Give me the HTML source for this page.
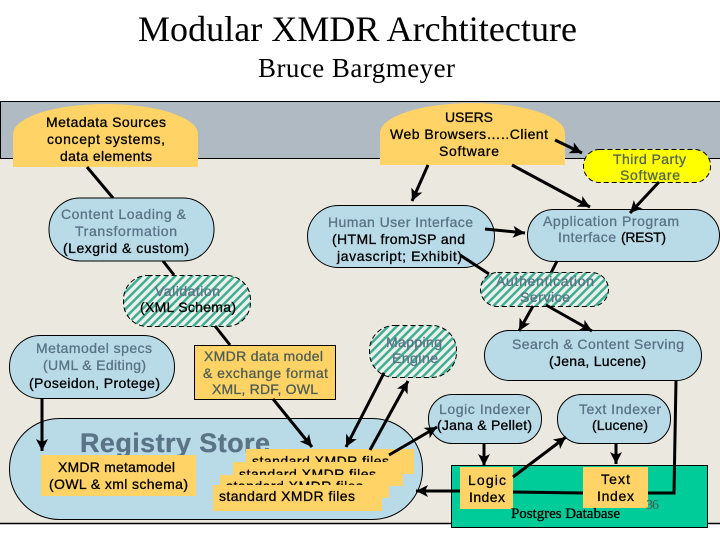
<!DOCTYPE html>
<html>
<head>
<meta charset="utf-8">
<title>Modular XMDR Archtitecture</title>
<style>
html,body{margin:0;padding:0;background:#fff}
svg{display:block}
text{font-family:"Liberation Sans",sans-serif;font-size:14px;fill:#000;stroke:#000;stroke-width:.3}
.g{fill:#5a7386;stroke:#5a7386}
.s{font-family:"Liberation Serif",serif}
.blue{fill:#b9dae7;stroke:#000;stroke-width:1}
.or{fill:#ffd366}
.h{fill:url(#hatch);stroke:#000;stroke-width:1;stroke-dasharray:5 3}
.l{stroke:#000;stroke-width:3;fill:none}
.a{stroke:#000;stroke-width:3;fill:none;marker-end:url(#arr)}
</style>
</head>
<body>
<svg width="720" height="540" viewBox="0 0 720 540" xmlns="http://www.w3.org/2000/svg">
<defs>
<pattern id="hatch" width="6" height="6" patternUnits="userSpaceOnUse" patternTransform="rotate(45)">
<rect width="6" height="6" fill="#edf1ea"/>
<rect width="2.500" height="6" fill="#3fae95"/>
</pattern>
<marker id="arr" markerUnits="userSpaceOnUse" markerWidth="14" markerHeight="14" refX="13" refY="7" orient="auto">
<path d="M1 1 L13 7 L1 13 L4 7 Z" fill="#000"/>
</marker>
</defs>

<rect width="720" height="540" fill="#fff"/>
<text class="s" x="138" y="41" textLength="439" style="font-size:36px;stroke:none">Modular XMDR Archtitecture</text>
<text class="s" x="258" y="77" textLength="197" style="font-size:27px;stroke:none">Bruce Bargmeyer</text>

<rect x="0" y="158" width="720" height="365" fill="#ebe8e0"/>
<rect x="0" y="101" width="720" height="57" fill="#b0bac3"/>
<path d="M0.5 158 V101.5 H720 M0 158.5 H720" fill="none" stroke="#000"/>
<path d="M0 523.5 H720" stroke="#000" stroke-width="1.5"/>

<path class="or" d="M13 167 V134 A92.500 30 0 0 1 198 134 V167 Z"/>
<path class="or" d="M380 165 V133 A92.500 30 0 0 1 565 133 V165 Z"/>

<path class="l" d="M87 167 L113 198"/>
<path class="l" d="M163 261 L174 275"/>
<path class="a" d="M555 140 L582 153"/>
<path class="a" d="M428 165 L412 201"/>
<path class="a" d="M512 165 L590 207"/>

<rect class="blue" x="49" y="198" width="165" height="63" rx="31" ry="31"/>
<rect class="blue" x="307.500" y="205.500" width="187" height="62" rx="31" ry="31"/>
<rect class="blue" x="527.500" y="209.500" width="192" height="52" rx="26" ry="26"/>
<rect x="583.500" y="149.500" width="127" height="33" rx="16" ry="16" fill="#ffff00" stroke="#000" stroke-dasharray="5 3"/>
<path class="a" d="M659 182 L630 213"/>
<path class="a" d="M485 229 L525 233"/>
<path class="l" d="M557 261 L551 273"/>
<path class="l" d="M460 255 L489 274"/>

<rect class="h" x="123.500" y="275.500" width="127" height="51" rx="24" ry="24"/>
<rect class="h" x="480.500" y="272.500" width="128" height="34" rx="17" ry="17"/>
<rect class="blue" x="9.500" y="335.500" width="165" height="63" rx="31" ry="31"/>
<rect x="194.500" y="345.500" width="141" height="54" fill="#ffd366" stroke="#000"/>
<rect class="h" x="369.500" y="325.500" width="87" height="52" rx="25" ry="25"/>
<rect class="blue" x="484.500" y="330.500" width="217" height="50" rx="25" ry="25"/>
<rect class="blue" x="428.500" y="394.500" width="113" height="49" rx="24" ry="24"/>
<rect class="blue" x="557.500" y="394.500" width="113" height="49" rx="24" ry="24"/>

<path class="l" d="M215 326 L230 345"/>
<path class="a" d="M533 306 L519 331"/>
<path class="a" d="M546 305 L592 331"/>

<rect class="blue" x="9.500" y="418.500" width="413" height="101" rx="50" ry="50"/>
<text class="g" x="80" y="452" textLength="190" style="font-size:27px;font-weight:bold">Registry Store</text>

<rect class="or" x="41" y="455" width="155" height="41"/>
<rect x="451.500" y="465.500" width="256" height="62" fill="#00cc99" stroke="#000"/>
<rect class="or" x="460" y="467" width="53" height="42"/>
<rect class="or" x="583" y="467" width="65" height="41"/>

<rect class="or" x="246" y="449" width="168" height="25"/>
<text x="252" y="466" textLength="137">standard XMDR files</text>
<rect class="or" x="233" y="462" width="170" height="24"/>
<text x="239" y="479" textLength="137">standard XMDR files</text>
<rect class="or" x="220" y="475" width="169" height="23"/>
<text x="226" y="491" textLength="137">standard XMDR files</text>
<rect class="or" x="213" y="485" width="169" height="26"/>
<text x="219" y="501" textLength="136">standard XMDR files</text>

<path class="a" d="M42 398 L42 451"/>
<path class="a" d="M273 399 L312 447"/>
<path class="a" d="M384 373 L346 447"/>
<path class="a" d="M370 450 L408 381"/>
<path class="a" d="M389 455 L437 427"/>
<path class="a" d="M513 477 L566 437"/>
<path class="a" d="M484 443 L484 466"/>
<path class="a" d="M616 443 L616 464"/>
<path class="l" d="M676 380 L674 493 L648 493"/>
<path class="l" d="M513 492 L583 493"/>
<path class="a" d="M460 491 L416 491"/>

<text x="46" y="127" textLength="120">Metadata Sources</text>
<text x="47" y="144" textLength="118">concept systems,</text>
<text x="60" y="161" textLength="92">data elements</text>
<text x="445" y="122" textLength="48">USERS</text>
<text x="390" y="139" textLength="158">Web Browsers…..Client</text>
<text x="439" y="156" textLength="60">Software</text>
<text class="g" x="613" y="164" textLength="73" style="fill:#55664f;stroke:#55664f">Third Party</text>
<text class="g" x="620" y="180" textLength="60" style="fill:#55664f;stroke:#55664f">Software</text>
<text class="g" x="61" y="219" textLength="125">Content Loading &amp;</text>
<text class="g" x="75" y="236" textLength="102">Transformation</text>
<text x="63" y="253" textLength="126">(Lexgrid &amp; custom)</text>
<text class="g" x="328" y="227" textLength="145">Human User Interface</text>
<text x="332" y="244" textLength="133">(HTML fromJSP and</text>
<text x="337" y="261" textLength="125">javascript; Exhibit)</text>
<text class="g" x="543" y="226" textLength="136">Application Program</text>
<text class="g" x="558" y="242" textLength="58">Interface</text>
<text x="621" y="242" textLength="45">(REST)</text>
<text class="g" x="496" y="286" textLength="98">Authentication</text>
<text class="g" x="520" y="302" textLength="50">Service</text>
<text class="g" x="155" y="296" textLength="65">Validation</text>
<text x="140" y="312" textLength="96">(XML Schema)</text>
<text class="g" x="36" y="353" textLength="116">Metamodel specs</text>
<text class="g" x="43" y="370" textLength="103">(UML &amp; Editing)</text>
<text x="29" y="388" textLength="131">(Poseidon, Protege)</text>
<text class="g" x="204" y="361" textLength="119" style="fill:#4f5f55;stroke:#4f5f55">XMDR data model</text>
<text class="g" x="203" y="378" textLength="125" style="fill:#4f5f55;stroke:#4f5f55">&amp; exchange format</text>
<text class="g" x="212" y="394" textLength="106" style="fill:#4f5f55;stroke:#4f5f55">XML, RDF, OWL</text>
<text class="g" x="386" y="347" textLength="56">Mapping</text>
<text class="g" x="392" y="363" textLength="46">Engine</text>
<text class="g" x="512" y="349" textLength="172">Search &amp; Content Serving</text>
<text x="549" y="366" textLength="97">(Jena, Lucene)</text>
<text class="g" x="439" y="414" textLength="91">Logic Indexer</text>
<text x="437" y="430" textLength="95">(Jana &amp; Pellet)</text>
<text class="g" x="579" y="414" textLength="82">Text Indexer</text>
<text x="592" y="430" textLength="56">(Lucene)</text>
<text x="58" y="472" textLength="117">XMDR metamodel</text>
<text x="49" y="489" textLength="139">(OWL &amp; xml schema)</text>
<text x="468" y="485" textLength="38">Logic</text>
<text x="469" y="502" textLength="36">Index</text>
<text x="601" y="484" textLength="29">Text</text>
<text x="597" y="501" textLength="37">Index</text>
<text class="s" x="511" y="518" textLength="109" style="stroke-width:.3;font-size:15px">Postgres Database</text>
<text class="s" x="646" y="509" textLength="13" style="fill:#555;stroke:none;font-size:14px">36</text>
</svg>
</body>
</html>
